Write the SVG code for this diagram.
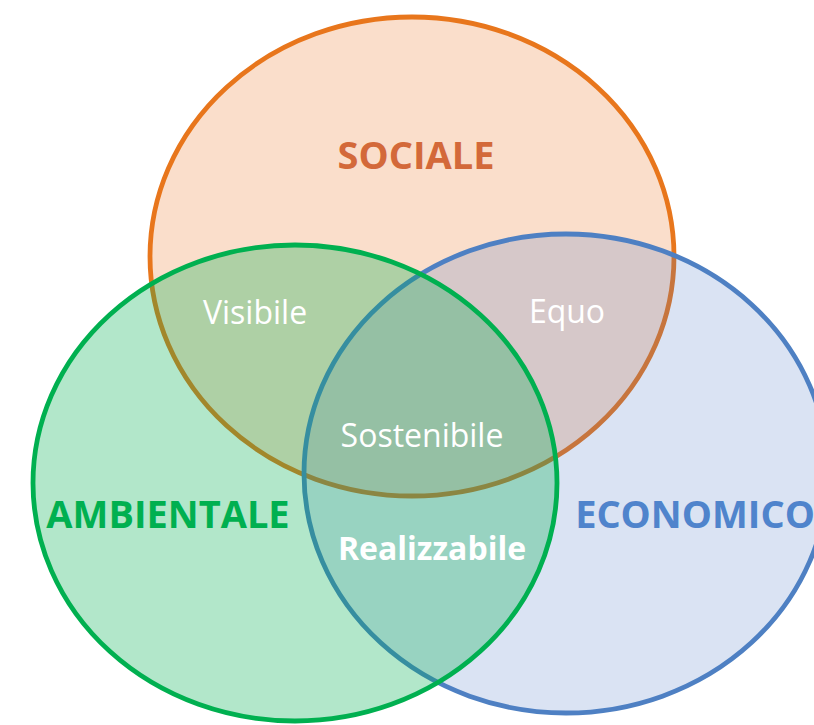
<svg xmlns="http://www.w3.org/2000/svg" width="814" height="725" viewBox="0 0 814 725">
<style>
.title{font-family:"Open Sans","Noto Sans","DejaVu Sans",sans-serif;font-weight:700;font-size:38px;text-anchor:middle}
.lbl{font-family:"Open Sans","Noto Sans","DejaVu Sans",sans-serif;font-size:32px;fill:#ffffff;text-anchor:middle}
.set{stroke-width:4.8}
</style>
<rect width="814" height="725" fill="#ffffff"/>
<g id="sociale">
<ellipse class="set" cx="412" cy="256.5" rx="262" ry="239.5" fill="#ED7D31" fill-opacity="0.25" stroke="#E8761C"/>
<text class="title" x="416" y="169" fill="#D3693A">SOCIALE</text>
</g>
<g id="economico">
<ellipse class="set" cx="566" cy="473.5" rx="262" ry="239.5" fill="#4472C4" fill-opacity="0.2" stroke="#4E80C3"/>
<text class="title" x="695" y="528" fill="#4F84CC">ECONOMICO</text>
</g>
<g id="ambientale">
<ellipse class="set" cx="295" cy="483" rx="262" ry="238" fill="#00B050" fill-opacity="0.3" stroke="#00B050"/>
<text class="title" x="168" y="528" fill="#00B050">AMBIENTALE</text>
</g>
<g id="connectors"></g>
<g id="visibile"><text class="lbl" x="255" y="324">Visibile</text></g>
<g id="equo"><text class="lbl" x="567" y="323">Equo</text></g>
<g id="sostenibile"><text class="lbl" x="422" y="447">Sostenibile</text></g>
<g id="realizzabile"><text class="lbl" x="432" y="560" font-weight="700">Realizzabile</text></g>
</svg>
